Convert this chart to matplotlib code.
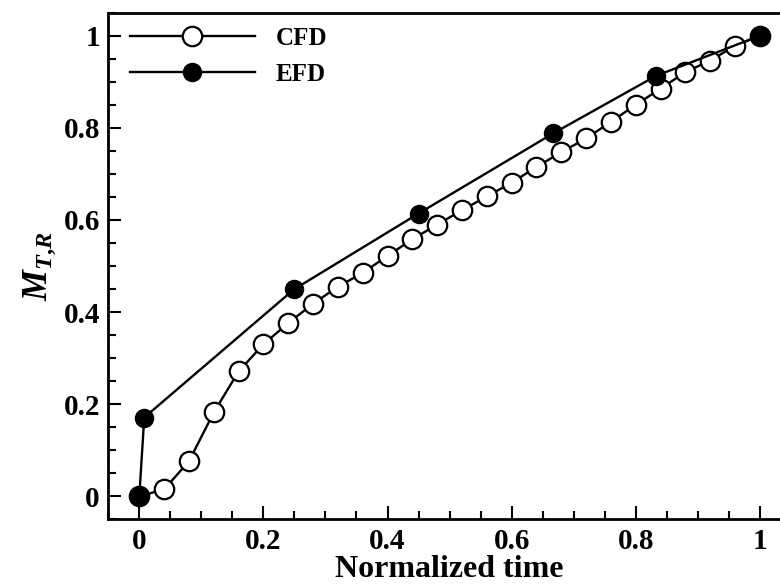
import matplotlib
matplotlib.use("Agg")
import matplotlib.pyplot as plt
from matplotlib.ticker import MultipleLocator

# CFD: normalized time / M_T,R
cfd_t = [0.0, 0.04, 0.08, 0.12, 0.16, 0.20, 0.24, 0.28, 0.32, 0.36, 0.40,
         0.44, 0.48, 0.52, 0.56, 0.60, 0.64, 0.68, 0.72, 0.76, 0.80, 0.84,
         0.88, 0.92, 0.96, 1.0]
cfd_m = [0.0, 0.015, 0.076, 0.182, 0.271, 0.330, 0.376, 0.418, 0.455, 0.485,
         0.522, 0.558, 0.590, 0.621, 0.651, 0.681, 0.715, 0.747, 0.777, 0.813,
         0.850, 0.885, 0.921, 0.946, 0.978, 1.0]

# EFD
efd_t = [0.0, 0.008, 0.249, 0.45, 0.667, 0.833, 1.0]
efd_m = [0.0, 0.171, 0.449, 0.614, 0.788, 0.913, 1.0]

tick_vals = [0, 0.2, 0.4, 0.6, 0.8, 1.0]
tick_labels = ["0", "0.2", "0.4", "0.6", "0.8", "1"]

plt.rcParams["font.family"] = "Liberation Serif"
plt.rcParams["font.weight"] = "bold"
plt.rcParams["mathtext.fontset"] = "custom"
plt.rcParams["mathtext.it"] = "Liberation Serif:italic:bold"
plt.rcParams["mathtext.rm"] = "Liberation Serif:bold"

fig = plt.figure(figsize=(7.8, 5.88), dpi=100)
ax = fig.add_axes([0.1388, 0.1168, 0.8751, 0.8616])

ax.plot(cfd_t, cfd_m, "-o", color="black", lw=1.7, ms=14,
        mfc="white", mec="black", mew=1.6, label="CFD")
ax.plot(efd_t, efd_m, "-o", color="black", lw=1.7, ms=13,
        mfc="black", mec="black", label="EFD")

ax.set_xlim(-0.05, 1.05)
ax.set_ylim(-0.05, 1.05)
ax.xaxis.set_minor_locator(MultipleLocator(0.05))
ax.yaxis.set_minor_locator(MultipleLocator(0.05))
ax.set_xticks(tick_vals)
ax.set_xticklabels(tick_labels)
ax.set_yticks(tick_vals)
ax.set_yticklabels(tick_labels)

ax.tick_params(which="both", direction="in", top=False, right=False,
               width=1.5, labelsize=21)
ax.tick_params(which="major", length=9.5, pad=6)
ax.tick_params(which="minor", length=5.5)
for s in ax.spines.values():
    s.set_linewidth(2)

ax.set_xlabel("Normalized time", fontsize=23, fontweight="bold", labelpad=0)
ax.set_ylabel(r"$M_{T{,}R}$", fontsize=25, labelpad=4)

ax.legend(loc="upper left", bbox_to_anchor=(0.006, 1.006), frameon=False,
          handlelength=5.0, handletextpad=0.85,
          labelspacing=0.5, borderpad=0.2, prop={"weight": "bold", "size": 18})

plt.savefig("out.png", dpi=100)
plt.close()
